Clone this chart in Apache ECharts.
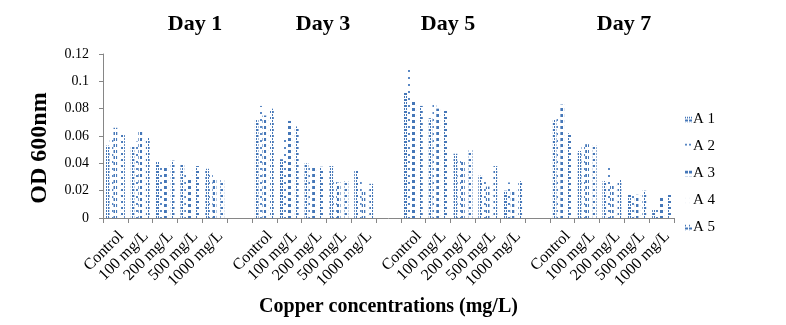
<!DOCTYPE html>
<html>
<head>
<meta charset="utf-8">
<script src="https://cdn.jsdelivr.net/npm/echarts@6/dist/echarts.min.js"></script>
<style>html,body{margin:0;padding:0;background:#fff;}#c{width:786px;height:325px;}</style>
</head>
<body>
<div id="c"></div>
<script>
// ---- data ----
const days = ['Day 1', 'Day 3', 'Day 5', 'Day 7'];
const concentrations = ['Control', '100 mg/L', '200 mg/L', '500 mg/L', '1000 mg/L'];
const seriesNames = ['A 1', 'A 2', 'A 3', 'A 4', 'A 5'];
const yTicks = [0, 0.02, 0.04, 0.06, 0.08, 0.1, 0.12];

// values per series: Day 1, Day 3, Day 5, Day 7 (each in concentration order)
const A1 = [[0.053, 0.052, 0.041, 0.039, 0.036], [0.072, 0.043, 0.040, 0.038, 0.035], [0.092, 0.073, 0.047, 0.031, 0.020], [0.072, 0.049, 0.027, 0.017, 0.006]];
const A2 = [[0.058, 0.056, 0.040, 0.034, 0.032], [0.082, 0.060, 0.037, 0.030, 0.027], [0.109, 0.086, 0.044, 0.028, 0.026], [0.076, 0.052, 0.039, 0.019, 0.007]];
const A3 = [[0.066, 0.065, 0.037, 0.029, 0.029], [0.075, 0.071, 0.038, 0.026, 0.020], [0.085, 0.080, 0.042, 0.023, 0.020], [0.083, 0.054, 0.024, 0.017, 0.015]];
const A4 = [[0.060, 0.058, 0.040, 0.035, 0.030], [0.074, 0.062, 0.036, 0.025, 0.022], [0.083, 0.077, 0.044, 0.025, 0.022], [0.070, 0.051, 0.025, 0.018, 0.012]];
const A5 = [[0.061, 0.059, 0.042, 0.038, 0.028], [0.080, 0.067, 0.0375, 0.027, 0.025], [0.082, 0.079, 0.050, 0.038, 0.027], [0.062, 0.053, 0.028, 0.020, 0.017]];
const allSeries = [A1, A2, A3, A4, A5];

// ---- build categories with a blank slot between days ----
const categories = [];
days.forEach((d, i) => {
  concentrations.forEach(c => categories.push(c));
  if (i < days.length - 1) categories.push('');
});
function flatten(arr) {
  const out = [];
  arr.forEach((g, i) => {
    g.forEach(v => out.push(v));
    if (i < arr.length - 1) out.push('-');
  });
  return out;
}

const blue = '#4577b8';
const clear = 'rgba(0,0,0,0)';
const decals = [
  { symbol: 'rect', symbolSize: 1, color: blue, backgroundColor: clear, dashArrayX: [[3, 1], [1, 1]], dashArrayY: [2, 1] },
  { symbol: 'rect', symbolSize: 1, color: '#5a88c4', backgroundColor: clear, dashArrayX: [2, 2], dashArrayY: [2, 5] },
  { symbol: 'rect', symbolSize: 1, color: blue, backgroundColor: clear, dashArrayX: [3, 1], dashArrayY: [3, 3] },
  { symbol: 'rect', symbolSize: 1, color: 'rgba(74,126,187,0.10)', backgroundColor: clear, dashArrayX: [1, 3], dashArrayY: [1, 4] },
  { symbol: 'rect', symbolSize: 1, color: blue, backgroundColor: clear, dashArrayX: [[3, 1], [1, 3]], dashArrayY: [2, 1] }
];

const serif = '"Liberation Serif", "Times New Roman", serif';
const chart = echarts.init(document.getElementById('c'), null, { renderer: 'canvas' });

const dayTitleX = [190, 318, 443, 619];

chart.setOption({
  animation: false,
  backgroundColor: '#fff',
  grid: { left: 103, right: 112, top: 54, bottom: 107, containLabel: false },
  title: days.map((d, i) => ({
    text: d, left: dayTitleX[i], top: 8,
    textAlign: 'center',
    textStyle: { fontFamily: serif, fontWeight: 'bold', fontSize: 22, color: '#000' }
  })),
  graphic: [{
    type: 'text', x: 40, y: 148, rotation: Math.PI / 2,
    style: { text: 'OD 600nm', fontFamily: serif, fontWeight: 'bold', fontSize: 24, fill: '#000', align: 'center', verticalAlign: 'middle' }
  }],
  legend: {
    orient: 'vertical', left: 680, top: 107,
    itemWidth: 7, itemHeight: 6, itemGap: 12,
    icon: 'rect',
    textStyle: { fontFamily: serif, fontSize: 15, color: '#000', padding: [0, 0, 0, -4] },
    data: seriesNames
  },
  xAxis: {
    type: 'category', data: categories,
    axisLine: { lineStyle: { color: '#868686' } },
    axisTick: { show: true, length: 5, lineStyle: { color: '#868686' } },
    axisLabel: { interval: 0, rotate: 45, fontFamily: serif, fontSize: 16, color: '#000', margin: 10, verticalAlign: 'top' },
    name: 'Copper concentrations (mg/L)', nameLocation: 'middle', nameGap: 79,
    nameTextStyle: { fontFamily: serif, fontWeight: 'bold', fontSize: 20, color: '#000' }
  },
  yAxis: {
    type: 'value', min: yTicks[0], max: yTicks[yTicks.length - 1], interval: 0.02,
    axisLine: { show: true, lineStyle: { color: '#868686' } },
    axisTick: { show: true, length: 4, lineStyle: { color: '#868686' } },
    splitLine: { show: false },
    axisLabel: { fontFamily: serif, fontSize: 14, color: '#000', margin: 14 }
  },
  series: allSeries.map((s, i) => ({
    name: seriesNames[i], type: 'bar',
    data: flatten(s),
    barGap: '0%', barCategoryGap: '24%',
    itemStyle: { color: '#ffffff', decal: decals[i] },
    emphasis: { disabled: true }
  }))
});
</script>
</body>
</html>
